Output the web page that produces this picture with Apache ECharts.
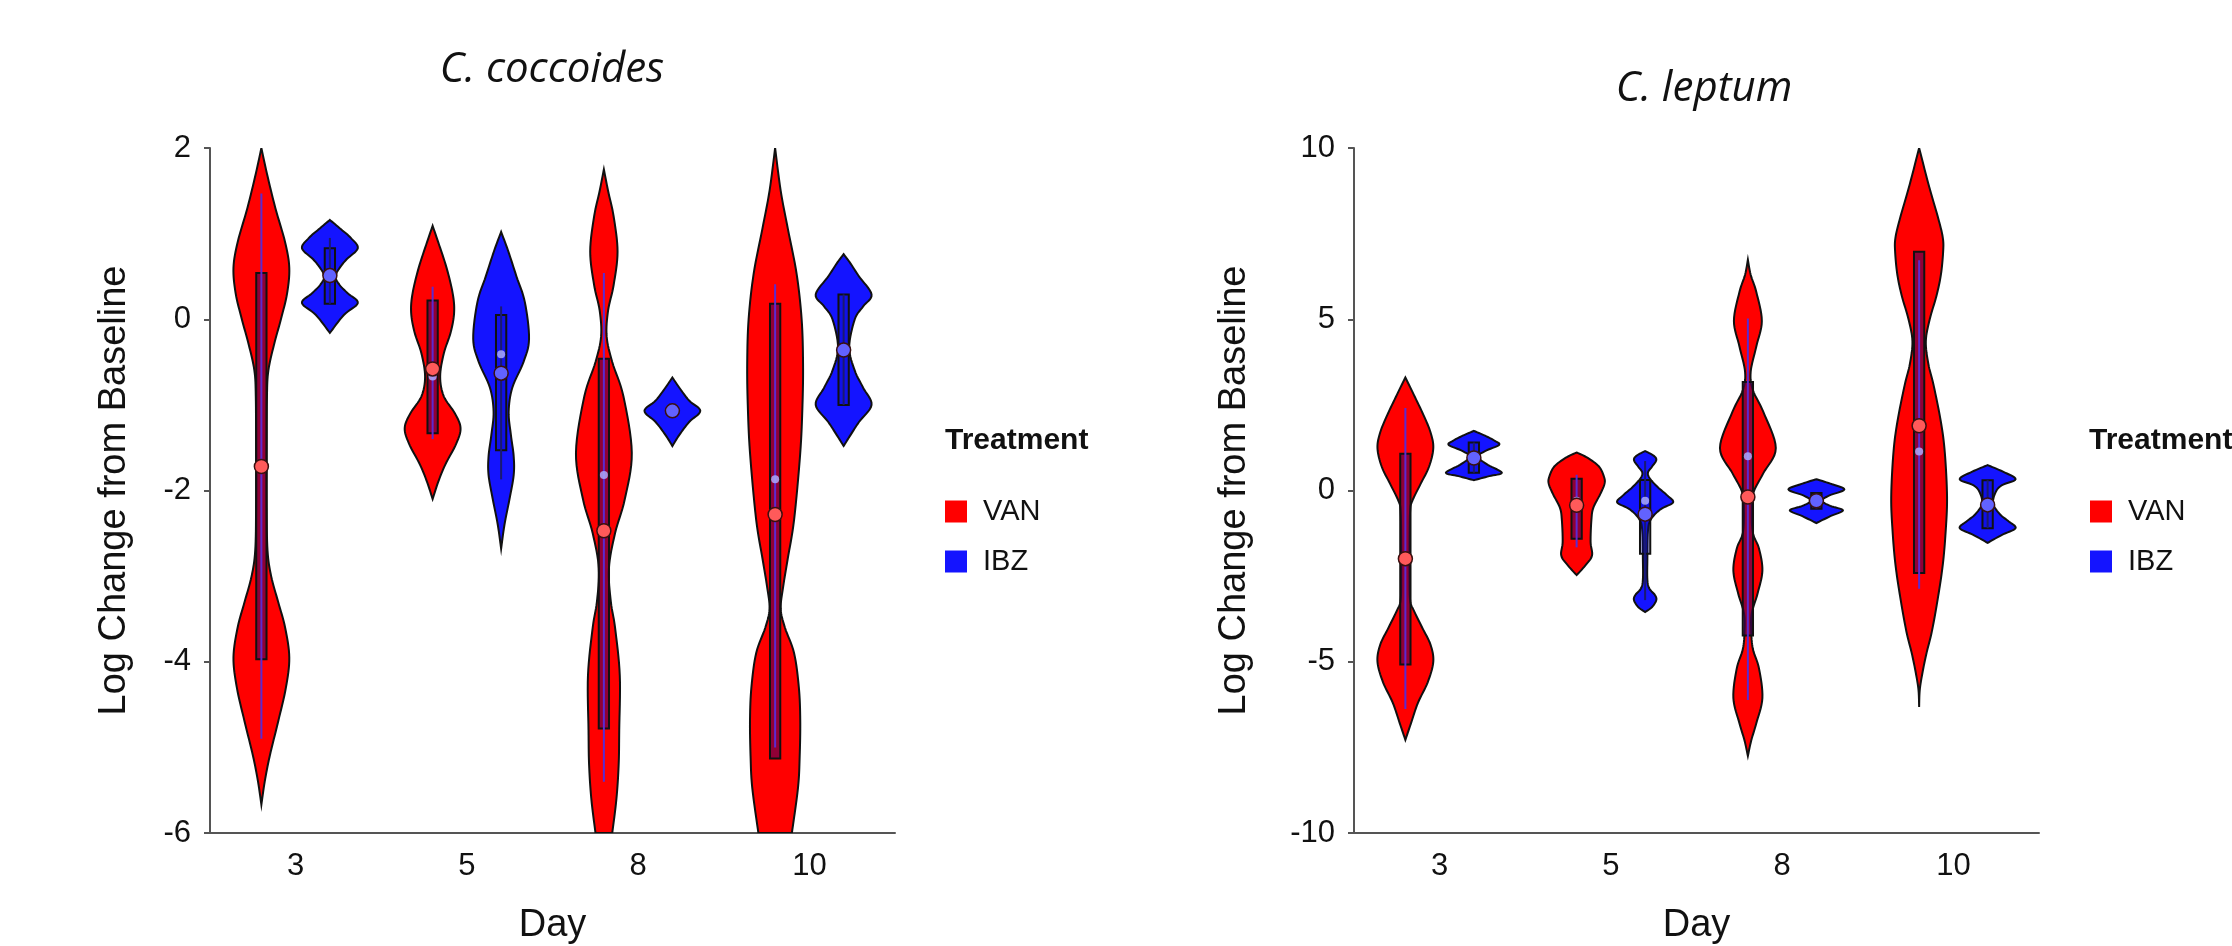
<!DOCTYPE html>
<html>
<head>
<meta charset="utf-8">
<script src="https://cdn.jsdelivr.net/npm/echarts@6/dist/echarts.min.js"></script>
<style>
html, body { margin: 0; padding: 0; background: #fff; }
#chart { width: 2232px; height: 946px; }
</style>
</head>
<body>
<div id="chart"></div>
<script>
const days = ['3', '5', '8', '10']
const treatments = ['VAN', 'IBZ']
const cocTicks = { min: -6, max: 2, interval: 2 }
const lepTicks = { min: -10, max: 10, interval: 5 }

// violin outlines, top to bottom: [log change, relative half-width (1 = widest)]
const cocVanShape = [
    [[2.0, 0], [1.7, 0.2], [1.3, 0.5], [0.9, 0.85], [0.6, 1.0], [0.3, 0.92], [0, 0.7], [-0.3, 0.45], [-0.6, 0.25], [-0.9, 0.2], [-1.5, 0.19], [-2.2, 0.19], [-2.7, 0.22], [-3.0, 0.35], [-3.3, 0.6], [-3.6, 0.85], [-3.95, 1.0], [-4.3, 0.88], [-4.7, 0.6], [-5.1, 0.3], [-5.4, 0.12], [-5.67, 0]],
    [[1.09, 0], [0.9, 0.2], [0.6, 0.5], [0.3, 0.72], [0.08, 0.77], [-0.15, 0.65], [-0.4, 0.4], [-0.67, 0.27], [-0.9, 0.4], [-1.1, 0.8], [-1.27, 1.0], [-1.45, 0.85], [-1.7, 0.45], [-1.9, 0.2], [-2.1, 0]],
    [[1.75, 0], [1.5, 0.15], [1.2, 0.35], [0.79, 0.49], [0.4, 0.35], [0.1, 0.15], [-0.2, 0.1], [-0.5, 0.3], [-0.9, 0.7], [-1.56, 1.0], [-2.1, 0.75], [-2.5, 0.4], [-2.91, 0.18], [-3.3, 0.25], [-3.6, 0.4], [-4.16, 0.57], [-4.8, 0.55], [-5.2, 0.53], [-5.6, 0.45], [-6.0, 0.3]],
    [[2.0, 0], [1.5, 0.2], [1.05, 0.46], [0.53, 0.77], [0, 0.95], [-0.51, 1.0], [-1.0, 0.98], [-1.56, 0.9], [-2.34, 0.68], [-2.8, 0.45], [-3.12, 0.29], [-3.38, 0.2], [-3.6, 0.35], [-3.9, 0.68], [-4.3, 0.85], [-4.68, 0.9], [-5.1, 0.88], [-5.47, 0.82], [-6.0, 0.6]]
]
const cocIbzShape = [
    [[1.16, 0], [1.05, 0.4], [0.95, 0.75], [0.83, 1.0], [0.7, 0.6], [0.6, 0.35], [0.5, 0.2], [0.4, 0.35], [0.3, 0.65], [0.19, 1.0], [0.05, 0.5], [-0.16, 0]],
    [[1.02, 0], [0.8, 0.25], [0.5, 0.55], [0.2, 0.85], [-0.23, 1.0], [-0.5, 0.8], [-0.8, 0.4], [-1.08, 0.27], [-1.35, 0.35], [-1.6, 0.45], [-1.82, 0.45], [-2.1, 0.3], [-2.4, 0.12], [-2.68, 0]],
    [[-0.68, 0], [-0.8, 0.25], [-0.95, 0.6], [-1.07, 1.0], [-1.2, 0.6], [-1.35, 0.25], [-1.48, 0]],
    [[0.76, 0], [0.65, 0.25], [0.5, 0.55], [0.29, 1.0], [0.15, 0.7], [0, 0.4], [-0.33, 0.2], [-0.6, 0.4], [-0.8, 0.7], [-1.0, 1.0], [-1.2, 0.55], [-1.35, 0.25], [-1.48, 0]]
]
const lepVanShape = [
    [[3.3, 0], [2.8, 0.3], [2.2, 0.65], [1.7, 0.9], [1.24, 1.0], [0.7, 0.85], [0.2, 0.55], [-0.3, 0.25], [-0.6, 0.17], [-1.5, 0.15], [-2.5, 0.15], [-3.2, 0.17], [-3.5, 0.3], [-4.0, 0.6], [-4.5, 0.9], [-5.0, 1.0], [-5.6, 0.8], [-6.2, 0.45], [-6.8, 0.2], [-7.28, 0]],
    [[1.11, 0], [0.95, 0.4], [0.7, 0.8], [0.4, 0.98], [0.2, 1.0], [-0.1, 0.85], [-0.5, 0.6], [-0.85, 0.53], [-1.5, 0.5], [-1.9, 0.55], [-2.2, 0.3], [-2.47, 0]],
    [[6.74, 0], [6.3, 0.1], [5.8, 0.3], [4.95, 0.5], [4.2, 0.3], [3.46, 0.1], [2.93, 0.18], [2.3, 0.55], [1.24, 1.0], [0.5, 0.55], [-0.06, 0.2], [-0.6, 0.14], [-1.24, 0.18], [-1.7, 0.4], [-2.34, 0.52], [-3.0, 0.35], [-3.58, 0.14], [-4.1, 0.12], [-4.63, 0.18], [-5.2, 0.4], [-6.06, 0.52], [-6.8, 0.3], [-7.3, 0.12], [-7.75, 0]],
    [[10, 0], [8.93, 0.34], [7.9, 0.7], [7.37, 0.85], [6.97, 0.86], [6.3, 0.78], [5.68, 0.62], [5.0, 0.38], [4.36, 0.24], [3.7, 0.33], [3.07, 0.52], [2.0, 0.78], [1.11, 0.92], [-0.19, 1.0], [-1.2, 0.95], [-2.15, 0.85], [-3.1, 0.68], [-4.1, 0.46], [-4.8, 0.25], [-5.41, 0.1], [-5.85, 0.02], [-6.32, 0]]
]
const lepIbzShape = [
    [[1.74, 0], [1.6, 0.4], [1.45, 0.75], [1.33, 0.9], [1.15, 0.4], [0.98, 0.15], [0.75, 0.5], [0.52, 1.0], [0.42, 0.55], [0.3, 0]],
    [[1.15, 0], [1.02, 0.3], [0.89, 0.4], [0.7, 0.25], [0.52, 0.1], [0.34, 0.18], [0.1, 0.45], [-0.15, 0.8], [-0.35, 1.0], [-0.55, 0.55], [-0.85, 0.2], [-1.2, 0.1], [-2.0, 0.08], [-2.6, 0.08], [-2.86, 0.15], [-3.05, 0.35], [-3.2, 0.4], [-3.4, 0.25], [-3.55, 0]],
    [[0.33, 0], [0.2, 0.5], [0.03, 1.0], [-0.15, 0.45], [-0.3, 0.2], [-0.45, 0.5], [-0.58, 0.95], [-0.75, 0.5], [-0.95, 0]],
    [[0.74, 0], [0.55, 0.55], [0.33, 1.0], [0.15, 0.5], [-0.06, 0.28], [-0.39, 0.2], [-0.7, 0.45], [-0.9, 0.75], [-1.1, 1.0], [-1.3, 0.5], [-1.53, 0]]
]

// box [q1, q3], whisker [low, high], median, mean per day
const cocVanBox = [[-3.97, 0.54], [-1.33, 0.22], [-4.78, -0.46], [-5.13, 0.18]]
const cocVanWhisker = [[-4.9, 1.47], [-1.4, 0.38], [-5.4, 0.54], [-5.0, 0.41]]
const cocVanMedian = [-1.7, -0.67, -1.82, -1.87]
const cocVanMean = [-1.72, -0.58, -2.47, -2.28]
const cocIbzBox = [[0.18, 0.83], [-1.53, 0.05], [-1.1, -1.04], [-1.0, 0.29]]
const cocIbzWhisker = [[0.18, 0.95], [-1.87, 0.15], [-1.1, -1.04], [-1.0, 0.29]]
const cocIbzMedian = [0.5, -0.41, -1.07, -0.36]
const cocIbzMean = [0.51, -0.63, -1.07, -0.36]

const lepVanBox = [[-5.08, 1.07], [-1.41, 0.34], [-4.23, 3.17], [-2.41, 6.97]]
const lepVanWhisker = [[-6.38, 2.41], [-1.66, 0.46], [-6.12, 5.02], [-2.87, 6.72]]
const lepVanMedian = [-2.0, -0.3, 1.0, 1.14]
const lepVanMean = [-1.99, -0.43, -0.19, 1.89]
const lepIbzBox = [[0.52, 1.4], [-1.85, 0.31], [-0.53, -0.07], [-1.1, 0.3]]
const lepIbzWhisker = [[0.52, 1.4], [-3.2, 0.86], [-0.53, -0.07], [-1.1, 0.3]]
const lepIbzMedian = [0.95, -0.3, -0.3, -0.42]
const lepIbzMean = [0.95, -0.69, -0.3, -0.42]

const RED = '#FF0000'
const BLUE = '#1414FF'
const FONT = '"Liberation Sans", Arial, sans-serif'
const AXIS_COLOR = '#555'

const catmull = (pts, steps) => {
    let out = []
    for (let k = 0; k < pts.length - 1; k++) {
        let p0 = pts[Math.max(k - 1, 0)], p1 = pts[k], p2 = pts[k + 1], p3 = pts[Math.min(k + 2, pts.length - 1)]
        for (let s = 0; s < steps; s++) {
            let t = s / steps, t2 = t * t, t3 = t2 * t
            out.push([0, 1].map(j => 0.5 * (2 * p1[j] + (p2[j] - p0[j]) * t +
                (2 * p0[j] - 5 * p1[j] + 4 * p2[j] - p3[j]) * t2 +
                (3 * p1[j] - p0[j] - 3 * p2[j] + p3[j]) * t3)))
        }
    }
    out.push(pts[pts.length - 1])
    return out
}

const violinRenderer = (g, side, look) => (params, api) => {
    let i = params.dataIndex
    let band = api.size([1, 0])[0]
    let cx = api.coord([i, 0])[0] + side * band * 0.2
    let halfMax = band * 0.163
    let boxHalf = band * 0.03
    let y = v => api.coord([i, v])[1]

    let rightPts = catmull(g.shape[i].map(([v, w]) => [w * halfMax, y(v)]), 8)
    let right = rightPts.map(([dx, py]) => [cx + Math.max(dx, 0), py])
    let left = rightPts.slice().reverse().map(([dx, py]) => [cx - Math.max(dx, 0), py])

    let [q1, q3] = g.box[i]
    let [lo, hi] = g.whisker[i]
    return {
        type: 'group',
        children: [
            {
                type: 'polygon',
                shape: { points: right.concat(left) },
                style: { fill: look.fill, stroke: '#111', lineWidth: 2 }
            },
            {
                type: 'rect',
                shape: { x: cx - boxHalf, y: y(q3), width: boxHalf * 2, height: y(q1) - y(q3) },
                style: { fill: look.boxFill, stroke: '#111', lineWidth: 2 }
            },
            {
                type: 'line',
                shape: { x1: cx, y1: y(hi), x2: cx, y2: y(lo) },
                style: { stroke: look.whisker, lineWidth: 2 }
            },
            {
                type: 'circle',
                shape: { cx: cx, cy: y(g.median[i]), r: 4 },
                style: { fill: 'rgba(170,170,255,0.85)' }
            },
            {
                type: 'circle',
                shape: { cx: cx, cy: y(g.mean[i]), r: 7 },
                style: { fill: look.mean, stroke: '#3a1010', lineWidth: 1.5 }
            }
        ]
    }
}

const vanLook = { fill: RED, boxFill: 'rgba(70,0,90,0.6)', whisker: '#5b2bd0', mean: '#FF5A5A' }
const ibzLook = { fill: BLUE, boxFill: 'rgba(10,10,180,0.3)', whisker: '#1a1a70', mean: '#6262FF' }

const groups = [
    { name: 'VAN', grid: 0, side: -1, look: vanLook, color: RED,
      g: { shape: cocVanShape, box: cocVanBox, whisker: cocVanWhisker, median: cocVanMedian, mean: cocVanMean } },
    { name: 'IBZ', grid: 0, side: 1, look: ibzLook, color: BLUE,
      g: { shape: cocIbzShape, box: cocIbzBox, whisker: cocIbzWhisker, median: cocIbzMedian, mean: cocIbzMean } },
    { name: 'VAN', grid: 1, side: -1, look: vanLook, color: RED,
      g: { shape: lepVanShape, box: lepVanBox, whisker: lepVanWhisker, median: lepVanMedian, mean: lepVanMean } },
    { name: 'IBZ', grid: 1, side: 1, look: ibzLook, color: BLUE,
      g: { shape: lepIbzShape, box: lepIbzBox, whisker: lepIbzWhisker, median: lepIbzMedian, mean: lepIbzMean } }
]

const xAxisFor = gridIndex => ({
    type: 'category',
    gridIndex: gridIndex,
    data: days,
    boundaryGap: true,
    axisLine: { onZero: false, lineStyle: { color: AXIS_COLOR, width: 2 } },
    axisTick: { alignWithLabel: true, length: 8, lineStyle: { color: AXIS_COLOR, width: 2 } },
    axisLabel: { fontSize: 31, color: '#111', margin: 18, fontFamily: FONT },
    splitLine: { show: false },
    name: 'Day',
    nameLocation: 'middle',
    nameGap: 74,
    nameTextStyle: { fontSize: 38, color: '#111', fontFamily: FONT }
})

const yAxisFor = (gridIndex, ticks, gap) => ({
    type: 'value',
    gridIndex: gridIndex,
    min: ticks.min,
    max: ticks.max,
    interval: ticks.interval,
    axisLine: { show: true, lineStyle: { color: AXIS_COLOR, width: 2 } },
    axisTick: { show: true, length: 6, lineStyle: { color: AXIS_COLOR, width: 2 } },
    axisLabel: { fontSize: 31, color: '#111', margin: 19, fontFamily: FONT },
    splitLine: { show: false },
    name: 'Log Change from Baseline',
    nameLocation: 'middle',
    nameGap: gap,
    nameTextStyle: { fontSize: 38, color: '#111', fontFamily: FONT }
})

const legendAt = left => ({
    data: treatments,
    orient: 'vertical',
    left: left,
    top: 492,
    icon: 'rect',
    itemWidth: 22,
    itemHeight: 22,
    itemGap: 21,
    selectedMode: false,
    textStyle: { fontSize: 29, color: '#111', fontFamily: FONT, lineHeight: 22, padding: [0, 0, 0, 11] }
})

const textAt = (x, y, text, style) => ({
    type: 'text',
    x: x,
    y: y,
    style: Object.assign({ text: text, fill: '#111', verticalAlign: 'middle' }, style)
})

const chart = echarts.init(document.getElementById('chart'))
chart.setOption({
    backgroundColor: '#fff',
    animation: false,
    grid: [
        { left: 210, top: 148, width: 685, height: 685, outerBoundsMode: 'none' },
        { left: 1354, top: 148, width: 685, height: 685, outerBoundsMode: 'none' }
    ],
    xAxis: [xAxisFor(0), xAxisFor(1)],
    yAxis: [yAxisFor(0, cocTicks, 76), yAxisFor(1, lepTicks, 100)],
    legend: [legendAt(940), legendAt(2085)],
    graphic: [
        textAt(552, 70, 'C. coccoides', { align: 'center', font: 'italic 42px "Open Sans", sans-serif' }),
        textAt(1704, 89, 'C. leptum', { align: 'center', font: 'italic 42px "Open Sans", sans-serif' }),
        textAt(945, 441, 'Treatment', { font: 'bold 30px "Liberation Sans", Arial, sans-serif' }),
        textAt(2089, 441, 'Treatment', { font: 'bold 30px "Liberation Sans", Arial, sans-serif' })
    ],
    series: groups.map(s => ({
        type: 'custom',
        name: s.name,
        xAxisIndex: s.grid,
        yAxisIndex: s.grid,
        clip: true,
        itemStyle: { color: s.color },
        encode: { x: 0, y: 1 },
        data: days.map((d, i) => [i, s.g.mean[i]]),
        renderItem: violinRenderer(s.g, s.side, s.look)
    }))
})
</script>
</body>
</html>
